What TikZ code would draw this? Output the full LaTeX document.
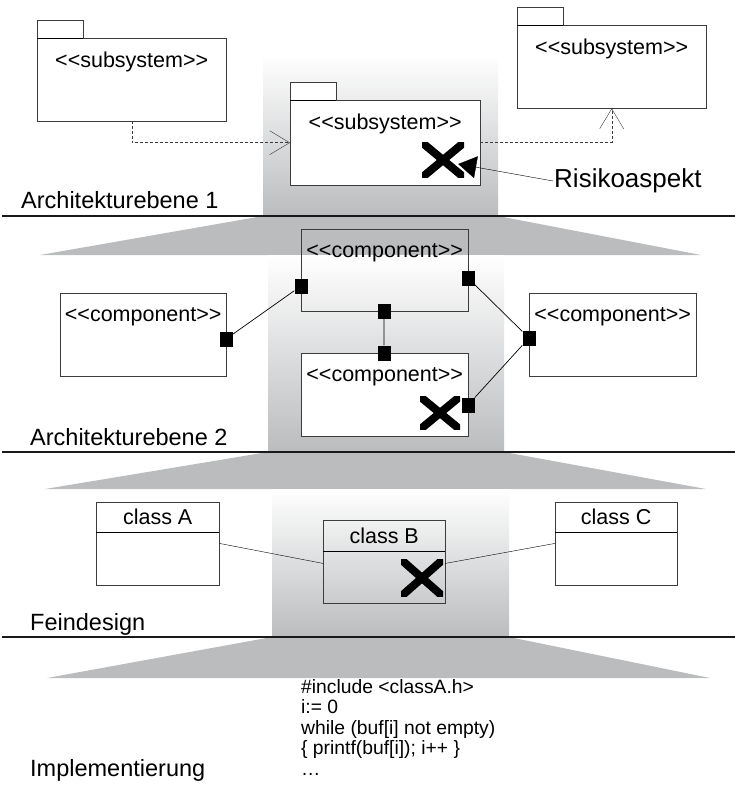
\documentclass[tikz,border=0pt]{standalone}
\usepackage{fontspec}
\newfontfamily\diafont{Liberation Sans}
\usetikzlibrary{arrows.meta,calc,positioning}
\definecolor{bandgray}{RGB}{186,188,190}
\definecolor{linegray}{RGB}{60,60,60}
\tikzset{
  box/.style={draw=linegray, fill=white, inner sep=0pt, anchor=north west},
  boxlbl/.style={label={[font=\diafont\fontsize{21.5}{24}\selectfont, anchor=center, yshift=-24pt]north:{#1}}},
  port/.style={fill=black, inner sep=0pt, minimum width=13pt, minimum height=15pt},
  riskx/.style={inner sep=0pt, minimum width=42pt, minimum height=35pt,
    path picture={\draw[line width=8pt] (path picture bounding box.north west) -- (path picture bounding box.south east)
      (path picture bounding box.south west) -- (path picture bounding box.north east);}},
  dep/.style={draw=linegray, dash pattern=on 3pt off 2pt, -{Straight Barb[length=20pt,width=24pt]}},
  level/.style={font=\diafont\fontsize{23.5}{27}\selectfont, anchor=base west, inner sep=0pt},
  sep/.style={line width=2.5pt, black!90},
}
\begin{document}
\begin{tikzpicture}[x=1pt,y=-1pt]
\useasboundingbox (0,0) rectangle (735,786);
% focus columns and widening bands
\shade[top color=white, bottom color=bandgray] (263,55) rectangle (498,216);
\fill[bandgray] (263,216) -- (498,216) -- (701,255) -- (40,255) -- cycle;
\shade[top color=white, bottom color=bandgray] (268,255) rectangle (504,452);
\fill[bandgray] (268,452) -- (504,452) -- (706,489) -- (45,489) -- cycle;
\shade[top color=white, bottom color=bandgray] (272,489) rectangle (509,637);
\fill[bandgray] (272,637) -- (509,637) -- (710,678) -- (47,678) -- cycle;
\draw[sep] (2,216) -- (735,216) (2,452) -- (735,452) (2,637) -- (735,637);

% level 1: subsystems
\node[box, minimum width=46pt, minimum height=18pt] (tabL) at (37,20) {};
\node[box, minimum width=189pt, minimum height=83pt, boxlbl={<<subsystem>>}] (subL) at (37,38) {};
\node[box, minimum width=46pt, minimum height=18pt] (tabR) at (517,7) {};
\node[box, minimum width=189pt, minimum height=83pt, boxlbl={<<subsystem>>}] (subR) at (517,25) {};
\node[box, minimum width=46pt, minimum height=18pt] (tabC) at (290,82) {};
\node[box, minimum width=190pt, minimum height=85pt, boxlbl={<<subsystem>>}] (subC) at (290,100) {};
\draw[thick] (tabL.south west) -- (tabL.south east) (tabR.south west) -- (tabR.south east)
  (tabC.south west) -- (tabC.south east);
\draw[dep] (subL.south) |- (subC.west);
\draw[dep] (subC.east) -| (subR.south);
\node[riskx] (x1) at (443,160) {};
\node[font=\diafont\fontsize{26}{30}\selectfont, anchor=west, inner sep=1pt] (riskaspect) at (553,181) {Risikoaspekt};
\draw[-{Triangle[length=18pt,width=22pt]}] (riskaspect.west) -- ($(x1.east)+(-6,4)$);
\node[level] (lvlA) at (21,208) {Architekturebene 1};

% level 2: components
\node[box, fill=none, minimum width=167pt, minimum height=82pt, boxlbl={<<component>>}] (cmpT) at (301,229) {};
\node[box, minimum width=166pt, minimum height=83pt, boxlbl={<<component>>}] (cmpL) at (60,293) {};
\node[box, minimum width=167pt, minimum height=83pt, boxlbl={<<component>>}] (cmpR) at (529,293) {};
\node[box, minimum width=167pt, minimum height=83pt, boxlbl={<<component>>}] (cmpB) at (301,353) {};
\node[riskx, minimum width=40pt, minimum height=33pt] (x2) at (440,413) {};
\node[port] (pTl) at (301,286) {};
\node[port] (pTr) at (468,278) {};
\node[port] (pTb) at (384,311) {};
\node[port] (pBt) at (384,353) {};
\node[port] (pBr) at (468,405) {};
\node[port] (pLr) at (226,339) {};
\node[port] (pRl) at (529,338) {};
\draw[line width=0.7pt] (pLr) -- (pTl) (pTr) -- (pRl) -- (pBr) (pTb) -- (pBt);
\node[level] (lvlB) at (30,445) {Architekturebene 2};

% level 3: classes
\node[box, minimum width=123pt, minimum height=30pt, font=\diafont\fontsize{21.5}{24}\selectfont] (clsA) at (96,502) {class A};
\node[box, anchor=north, minimum width=123pt, minimum height=53pt] (clsAbody) at (clsA.south) {};
\node[box, fill=none, minimum width=122pt, minimum height=31pt, font=\diafont\fontsize{21.5}{24}\selectfont] (clsB) at (323,520) {class B};
\node[box, fill=none, anchor=north, minimum width=122pt, minimum height=52pt] (clsBbody) at (clsB.south) {};
\node[box, minimum width=122pt, minimum height=30pt, font=\diafont\fontsize{21.5}{24}\selectfont] (clsC) at (555,502) {class C};
\node[box, anchor=north, minimum width=122pt, minimum height=53pt] (clsCbody) at (clsC.south) {};
\draw[thick] (clsA.south west) -- (clsA.south east) (clsB.south west) -- (clsB.south east)
  (clsC.south west) -- (clsC.south east);
\draw ($(clsAbody.north east)+(0,11)$) -- ($(clsBbody.north west)+(0,12)$);
\draw ($(clsBbody.north east)+(0,12)$) -- ($(clsCbody.north west)+(0,11)$);
\node[riskx, minimum height=37pt] (x3) at (422,578) {};
\node[level] (lvlC) at (30,630) {Feindesign};

% level 4: code
\node[font=\diafont\fontsize{19.3}{20.5}\selectfont, align=left, anchor=north west, inner sep=0pt] (code) at (301,679)
  {\#include <classA.h>\\ i:= 0\\ while (buf[i] not empty)\\ \{ printf(buf[i]); i++ \}\\ …};
\node[level] (lvlD) at (30,776) {Implementierung};
\end{tikzpicture}
\end{document}
